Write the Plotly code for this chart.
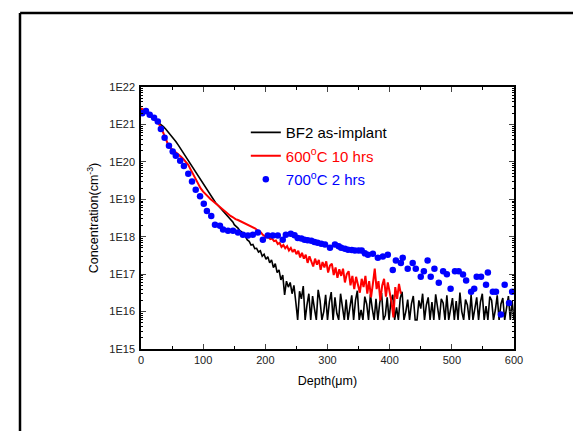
import plotly.graph_objects as go

# ---------------- data ----------------
black_depth = list(range(0, 149, 4)) + list(range(150, 601, 3))
black_conc = [
    # 0 .. 148 (step 4)
    2.5e21, 2.3e21, 2.05e21, 1.8e21, 1.6e21, 1.45e21, 1.3e21, 1.15e21, 1.02e21, 8.7e20,
    7.4e20, 6.2e20, 5.2e20, 4.3e20, 3.5e20, 2.8e20, 2.2e20, 1.8e20, 1.4e20, 1.1e20,
    8.9e19, 6.9e19, 5.4e19, 4.2e19, 3.2e19, 2.5e19, 1.95e19, 1.55e19, 1.23e19, 9.8e18,
    8.1e18, 6.8e18, 5.8e18, 4.9e18, 4.2e18, 3.5e18, 3.0e18, 2.45e18,
    # 150 .. 249 (step 3)
    2.1e18, 1.9e18, 1.7e18, 1.45e18, 1.35e18, 1.1e18, 1.0e18, 8.2e17, 7.5e17, 6.0e17,
    6.2e17, 4.8e17, 4.9e17, 3.9e17, 4.2e17, 3.0e17, 3.4e17, 2.5e17, 2.9e17, 2.0e17,
    2.4e17, 1.5e17, 1.9e17, 1.1e17, 1.3e17, 7.0e16, 9.5e16, 2.8e16, 6.5e16, 4.5e16,
    6.0e16, 3.0e16, 5.0e16, 1.8e16,
    # 252 .. 600 (step 3)
    6e15, 3.5e16, 2.2e16, 4.8e16, 6e15, 1.5e16, 3.0e16, 6e15, 2.6e16, 1.2e16,
    6e15, 3.8e16, 2.0e16, 6e15, 1.0e16, 2.8e16, 6e15, 1.8e16, 3.3e16, 6e15,
    2.4e16, 9e15, 6e15, 3.0e16, 1.5e16, 6e15, 2.1e16, 6e15, 1.3e16, 2.7e16,
    6e15, 2.0e16, 3.6e16, 6e15, 1.1e16, 6e15, 2.5e16, 1.6e16, 6e15, 2.9e16,
    1.2e16, 6e15, 2.2e16, 6e15, 1.7e16, 3.1e16, 6e15, 8e15, 2.4e16, 6e15,
    1.9e16, 2.8e16, 6e15, 1.3e16, 6e15, 2.3e16, 3.4e16, 6e15, 1.0e16, 2.1e16,
    6e15, 1.6e16, 2.6e16, 6e15, 6e15, 2.0e16, 1.2e16, 3.0e16, 6e15, 1.5e16,
    2.4e16, 6e15, 1.8e16, 6e15, 2.9e16, 1.1e16, 6e15, 2.2e16, 1.7e16, 6e15,
    2.7e16, 6e15, 1.3e16, 2.3e16, 6e15, 1.9e16, 6e15, 3.2e16, 1.0e16, 6e15,
    2.1e16, 1.5e16, 6e15, 2.8e16, 6e15, 1.2e16, 2.4e16, 6e15, 1.8e16, 3.0e16,
    6e15, 1.4e16, 6e15, 2.5e16, 2.0e16, 6e15, 1.1e16, 2.7e16, 6e15, 1.6e16,
    2.3e16, 6e15, 1.3e16, 2.6e16, 6e15, 1.9e16, 6e15,
]

red_depth = list(range(0, 197, 4)) + list(range(199, 419, 3))
red_conc = [
    # 0 .. 196 (step 4)
    2.7e21, 2.5e21, 2.15e21, 1.85e21, 1.6e21, 1.4e21, 1.25e21, 1.07e21, 8.5e20, 6e20,
    4e20, 2.8e20, 2.3e20, 2.05e20, 1.8e20, 1.6e20, 1.38e20, 1.2e20, 1.02e20, 8.3e19,
    6.2e19, 4.6e19, 3.4e19, 2.5e19, 1.95e19, 1.6e19, 1.35e19, 1.15e19, 1e19, 8.9e18,
    7.8e18, 6.8e18, 5.9e18, 5.1e18, 4.6e18, 4.1e18, 3.6e18, 3.3e18, 2.95e18, 2.8e18,
    2.6e18, 2.45e18, 2.3e18, 2.1e18, 2.0e18, 1.8e18, 1.65e18, 1.45e18, 1.35e18, 1.12e18,
    # 199 .. 418 (step 3)
    1.05e18, 9.6e17, 9.8e17, 8.6e17, 8.9e17, 7.6e17, 7.9e17, 6.4e17, 6.9e17, 5.3e17,
    6.0e17, 4.9e17, 5.6e17, 4.3e17, 5.0e17, 3.9e17, 4.6e17, 3.4e17, 4.2e17, 2.8e17,
    3.7e17, 2.6e17, 3.3e17, 2.0e17, 3.0e17, 2.3e17, 1.6e17, 2.6e17, 1.8e17, 2.4e17,
    1.3e17, 2.1e17, 1.5e17, 2.2e17, 1.1e17, 1.7e17, 1.9e17, 9.5e16, 1.5e17, 8.0e16,
    1.35e17, 9.0e16, 1.4e17, 6.0e16, 1.0e17, 1.2e17, 5.0e16, 9.0e16, 4.0e16, 8.5e16,
    5.5e16, 3.2e16, 7.5e16, 4.5e16, 9.0e16, 3.0e16, 6.5e16, 2.4e16, 5.5e16, 1.4e17,
    4.0e16, 6.5e16, 2.0e16, 5.0e16, 7.5e16, 2.5e16, 6.0e16, 3.5e16, 1.8e16, 7e15,
    4.5e16, 2.2e16, 5.5e16, 3.0e16,
]

blue_depth = [
    2, 8, 14, 21, 27, 32, 38, 45, 51, 56, 63, 69, 76, 82, 88, 95, 101, 106, 113, 119,
    127, 132, 140, 148, 156, 164, 172, 180, 188, 196, 204, 212, 220, 228, 233, 241,
    247, 252, 258, 263, 268, 274, 279, 284, 290, 296, 304, 312, 318, 322, 328, 333,
    339, 344, 350, 355, 360, 365, 373, 381, 389, 397, 405, 410, 418, 421, 429, 437,
    442, 450, 455, 461, 466, 472, 479, 486, 492, 498, 505, 511, 518, 523, 531, 536,
    540, 547, 555, 558, 566, 571, 579, 585, 592, 597,
]
blue_conc = [
    2.0e21, 2.3e21, 1.8e21, 1.5e21, 1.2e21, 7.6e20, 4.4e20, 2.7e20, 1.9e20, 1.45e20,
    1.07e20, 7.8e19, 4.8e19, 3.0e19, 1.8e19, 1.2e19, 7.6e18, 4.9e18, 3.6e18, 2.1e18,
    1.95e18, 1.55e18, 1.45e18, 1.45e18, 1.3e18, 1.12e18, 1.07e18, 1.12e18, 1.3e18, 8.3e17,
    1.07e18, 1.07e18, 1.07e18, 8.3e17, 1.12e18, 1.2e18,
    1.1e18, 9.3e17, 9.0e17, 8.3e17, 8.0e17, 7.8e17, 7.2e17, 6.9e17, 6.5e17, 6.2e17,
    5.1e17, 6.2e17, 5.6e17, 5.1e17, 4.8e17, 4.5e17,
    4.4e17, 4.3e17, 4.3e17, 4.3e17, 3.6e17, 3.3e17, 3.5e17, 2.75e17, 2.95e17, 3.3e17,
    1.3e17, 2.3e17, 2.0e17, 2.75e17, 1.4e17, 2.0e17,
    1.4e17, 8.5e16, 1.2e17, 2.3e17, 8.5e16, 1.4e17, 5.9e16, 1.2e17, 1.0e17, 4.1e16,
    1.2e17, 1.2e17, 9.8e16, 6.8e16, 3.4e16, 4.1e16,
    8.5e16, 8.5e16, 5.2e16, 1.1e17, 3.4e16, 3.4e16, 8.3e15, 5.2e16, 1.7e16, 3.4e16,
]

assert len(black_depth) == len(black_conc), (len(black_depth), len(black_conc))
assert len(red_depth) == len(red_conc), (len(red_depth), len(red_conc))
assert len(blue_depth) == len(blue_conc), (len(blue_depth), len(blue_conc))

series_names = [
    "BF2 as-implant",
    "<span style='color:#ff0000'>600<sup>o</sup>C 10 hrs</span>",
    "<span style='color:#0000ff'>700<sup>o</sup>C 2 hrs</span>",
]

y_tick_vals = [1e15, 1e16, 1e17, 1e18, 1e19, 1e20, 1e21, 1e22]
y_tick_text = ["1E15", "1E16", "1E17", "1E18", "1E19", "1E20", "1E21", "1E22"]
x_tick_vals = [0, 100, 200, 300, 400, 500, 600]

FONT = "Arial, 'Liberation Sans', sans-serif"

fig = go.Figure()
fig.add_trace(go.Scatter(x=black_depth, y=black_conc, mode="lines",
                         line=dict(color="#000000", width=1.6),
                         name=series_names[0], legendgroup="a"))
fig.add_trace(go.Scatter(x=red_depth, y=red_conc, mode="lines",
                         line=dict(color="#ff0000", width=2),
                         name=series_names[1], legendgroup="b"))
fig.add_trace(go.Scatter(x=blue_depth, y=blue_conc, mode="markers",
                         marker=dict(color="#0000ff", size=6.5, line=dict(width=0)),
                         name=series_names[2], legendgroup="c"))

minor_y = [float(m) * 10.0 ** e for e in range(15, 22) for m in range(2, 10)]

fig.update_layout(
    width=581, height=431,
    margin=dict(l=133, r=75, t=79, b=90),
    paper_bgcolor="white", plot_bgcolor="white",
    font=dict(family=FONT, size=11, color="#000000"),
    showlegend=True,
    legend=dict(x=0.281, y=0.889, xanchor="left", yanchor="top",
                bgcolor="rgba(0,0,0,0)", borderwidth=0,
                font=dict(size=15, family=FONT),
                tracegroupgap=1, itemwidth=30),
    xaxis=dict(range=[0, 600], tickvals=x_tick_vals, ticks="inside", ticklen=5,
               tickwidth=1, showline=True, linecolor="#000000", linewidth=1.5,
               mirror="ticks", showgrid=False, zeroline=False,
               tickfont=dict(size=11, color="#222222"),
               minor=dict(tickvals=[50, 150, 250, 350, 450, 550], ticks="inside",
                          ticklen=3, tickcolor="#000000", showgrid=False),
               title=dict(text="Depth(\u03bcm)", font=dict(size=12.5), standoff=11)),
    yaxis=dict(type="log", range=[15, 22], tickvals=y_tick_vals, ticktext=y_tick_text,
               ticks="inside", ticklen=5, tickwidth=1, showline=True,
               linecolor="#000000", linewidth=1.5, mirror="ticks", showgrid=False,
               zeroline=False, tickfont=dict(size=11, color="#222222"),
               ticklabelstandoff=2,
               minor=dict(tickvals=minor_y, ticks="inside", ticklen=2,
                          tickcolor="#000000", showgrid=False),
               title=dict(text="Concentration(cm<sup>-3</sup>)", font=dict(size=12.5),
                          standoff=8)),
)

# outer frame of the figure
fig.add_shape(type="line", xref="paper", yref="paper", x0=-0.324, x1=1.2, y0=1.2824, y1=1.2824,
              line=dict(color="#000000", width=2.5))
fig.add_shape(type="line", xref="paper", yref="paper", x0=-0.3244, x1=-0.3244, y0=1.2824, y1=-0.4,
              line=dict(color="#000000", width=2.5))
fig.add_shape(type="line", xref="paper", yref="paper", x0=1.1977, x1=1.1977, y0=1.27, y1=-0.4,
              line=dict(color="#cccccc", width=1))

fig.write_html("out.html")
